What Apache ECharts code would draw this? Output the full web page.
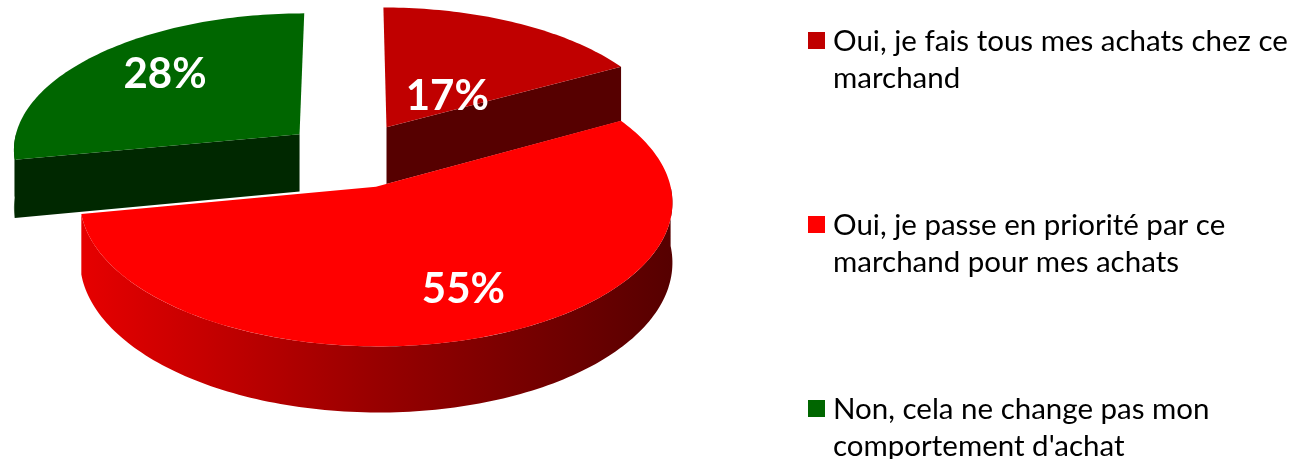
<!DOCTYPE html>
<html>
<head>
<meta charset="utf-8">
<script src="https://cdn.jsdelivr.net/npm/echarts@6/dist/echarts.min.js"></script>
<style>
  html, body { margin: 0; padding: 0; background: #fff; }
  #chart { width: 1293px; height: 459px; }
</style>
</head>
<body>
<div id="chart"></div>
<script>
// data
const categories = [
  'Oui, je fais tous mes achats chez ce marchand',
  'Oui, je passe en priorité par ce marchand pour mes achats',
  "Non, cela ne change pas mon comportement d'achat"
];
const legendLines = [
  ['Oui, je fais tous mes achats chez ce', 'marchand'],
  ['Oui, je passe en priorité par ce', 'marchand pour mes achats'],
  ['Non, cela ne change pas mon', "comportement d'achat"]
];
const values = [17, 55, 28];

// styles
const topColors = ['#c00000', '#ff0000', '#006600'];
const faceColors = ['#560000', '#6a0000', '#002800'];
const sideStops = [
  [{ offset: 0, color: '#8a0000' }, { offset: 1, color: '#4f0000' }],
  [{ offset: 0, color: '#e60000' }, { offset: 0.5, color: '#980000' }, { offset: 1, color: '#560000' }],
  [{ offset: 0, color: '#003200' }, { offset: 1, color: '#002400' }]
];
// label placement inside each slice: fraction of radius, angle shift (deg)
const labelRadius = [0.33, 0.72, 0.69];
const labelShift = [12, -2.3, 3.4];
const legendRows = [41, 225, 409];

// fake 3D view: tilted disc with a bit of perspective
const view = { cx: 352, cy: 155, A: 288, B: 137, C: 58, k: 0.10, explode: 0.24 };
function project(X, Y, Z) {
  const f = 1 / (1 + view.k * Y);
  return [view.cx + view.A * X * f, view.cy - (view.B * Y + view.C * Z) * f];
}

const total = values.reduce((a, b) => a + b, 0);
const startAngles = [];
let acc = 0;
values.forEach(v => { startAngles.push(acc / total * Math.PI * 2); acc += v; });

function renderSlice(i) {
  return function (params, api) {
    const a0 = startAngles[i];
    const a1 = a0 + api.value(0) / total * Math.PI * 2;
    const mid = (a0 + a1) / 2;
    const ox = view.explode * Math.sin(mid), oy = view.explode * Math.cos(mid);
    const pt = (r, t, z) => project(r * Math.sin(t) + ox, r * Math.cos(t) + oy, z);
    const arc = (t0, t1, z) => {
      const n = Math.max(2, Math.ceil(Math.abs(t1 - t0) / 0.02));
      const out = [];
      for (let s = 0; s <= n; s++) out.push(pt(1, t0 + (t1 - t0) * s / n, z));
      return out;
    };
    const children = [];
    // radial faces turned toward the viewer
    if (Math.sin(a0) < -0.01) {
      children.push({ type: 'polygon', shape: { points: [pt(0, a0, 0), pt(1, a0, 0), pt(1, a0, -1), pt(0, a0, -1)] }, style: { fill: faceColors[i] } });
    }
    if (Math.sin(a1) > 0.01) {
      children.push({ type: 'polygon', shape: { points: [pt(0, a1, 0), pt(1, a1, 0), pt(1, a1, -1), pt(0, a1, -1)] }, style: { fill: faceColors[i] } });
    }
    // outer wall, front half only
    const s0 = Math.max(a0, Math.PI / 2), s1 = Math.min(a1, Math.PI * 1.5);
    if (s1 > s0) {
      const pts = arc(s0, s1, 0).concat(arc(s0, s1, -1).reverse());
      children.push({ type: 'polygon', shape: { points: pts }, style: { fill: new echarts.graphic.LinearGradient(0, 0, 1, 0, sideStops[i]) } });
    }
    // top face
    children.push({ type: 'polygon', shape: { points: [pt(0, a0, 0)].concat(arc(a0, a1, 0)) }, style: { fill: topColors[i] } });
    // percentage label
    const lp = pt(labelRadius[i], mid + labelShift[i] * Math.PI / 180, 0);
    children.push({
      type: 'text',
      style: {
        text: api.value(0) + '%', x: lp[0], y: lp[1],
        fill: '#fff', fontFamily: 'Lato', fontWeight: 'bold', fontSize: 42,
        align: 'center', verticalAlign: 'middle'
      }
    });
    return { type: 'group', children: children };
  };
}

// legend: square marker aligned with the first of two text lines
const legendGraphics = [];
categories.forEach((name, i) => {
  legendGraphics.push({
    type: 'rect', left: 808, top: legendRows[i] - 9,
    shape: { width: 17, height: 17 }, style: { fill: topColors[i] }
  });
  legendLines[i].forEach((line, j) => {
    legendGraphics.push({
      type: 'text', x: 833, y: legendRows[i] + j * 37,
      style: { text: line, fill: '#000', fontFamily: 'Lato', fontSize: 29.5, verticalAlign: 'middle' }
    });
  });
});

const chart = echarts.init(document.getElementById('chart'), null, { renderer: 'canvas' });
chart.setOption({
  animation: false,
  color: topColors,
  graphic: legendGraphics,
  series: categories.map((name, i) => ({
    type: 'custom',
    name: name,
    coordinateSystem: 'none',
    z: i === 1 ? 3 : 2,
    itemStyle: { color: topColors[i] },
    data: [values[i]],
    renderItem: renderSlice(i)
  }))
});
</script>
</body>
</html>
